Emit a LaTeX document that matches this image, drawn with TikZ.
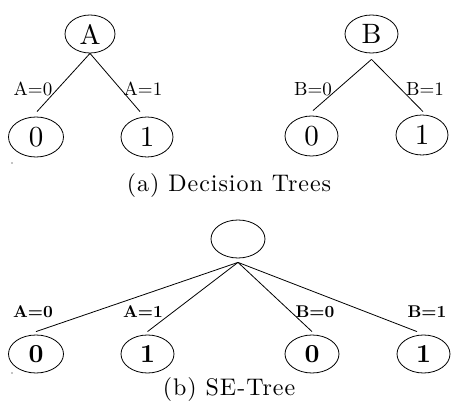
\documentclass[tikz,border=0pt]{standalone}
\usepackage{fontspec}
\setmainfont{lmroman10-regular.otf}[BoldFont=lmroman10-bold.otf]
\newfontfamily\capfont{lmroman10-regular.otf}[LetterSpace=4]
\usetikzlibrary{shapes.geometric}
\begin{document}
\begin{tikzpicture}[x=1pt,y=-1pt,
  nd/.style={draw, ellipse, inner sep=0pt, line width=0.8pt, minimum height=38pt},
  letter/.style={nd, font=\fontsize{28}{30}\selectfont},
  leaf/.style={nd, minimum height=40pt, font=\fontsize{29}{31}\selectfont},
  bleaf/.style={leaf, font=\fontsize{26}{28}\selectfont\bfseries},
  edge/.style={line width=0.8pt},
  lbl/.style={inner sep=0pt, font=\fontsize{19}{21}\selectfont},
  blbl/.style={inner sep=0pt, font=\fontsize{17}{19}\selectfont\bfseries},
  captext/.style={inner sep=0pt, font=\capfont\fontsize{24}{26}\selectfont}]
\useasboundingbox (0,0) rectangle (451,406);
% (a) decision trees
\node[letter, minimum width=50pt] (A) at (90,34) {A};
\node[leaf, minimum width=55pt] (A0) at (36,137) {0};
\node[leaf, minimum width=52pt] (A1) at (147,137) {1};
\draw[edge] (A.south) -- ([xshift=1pt,yshift=5pt]A0.north);
\draw[edge] (A.south) -- ([xshift=-7pt,yshift=5pt]A1.north);
\node[lbl] (la0) at (33,89) {A=0};
\node[lbl] (la1) at (143,89) {A=1};
\node[letter, minimum width=53pt] (B) at (371.5,34) {B};
\node[leaf, minimum width=53pt] (B0) at (311.5,136) {0};
\node[leaf, minimum width=52pt] (B1) at (422,135) {1};
\draw[edge] ([yshift=-6pt]B.south) -- ([xshift=1.5pt,yshift=5pt]B0.north);
\draw[edge] ([yshift=-6pt]B.south) -- ([xshift=1pt,yshift=3pt]B1.north);
\node[lbl] (lb0) at (313,89) {B=0};
\node[lbl] (lb1) at (425,89) {B=1};
\node[captext] (capa) at (229,186) {(a) Decision Trees};
% (b) SE-tree
\node[nd, minimum width=54pt] (R) at (238,239) {};
\node[bleaf, minimum width=55pt, minimum height=38pt] (C1) at (36,354) {0};
\node[bleaf, minimum width=53pt, minimum height=38pt] (C2) at (147.5,354) {1};
\node[bleaf, minimum width=54pt, minimum height=38pt] (C3) at (312,354) {0};
\node[bleaf, minimum width=53pt, minimum height=38pt] (C4) at (423.5,354) {1};
\coordinate (Rb) at ([yshift=-4pt]R.south);
\draw[edge] (Rb) -- ([yshift=3pt]C1.north);
\draw[edge] (Rb) -- ([yshift=3pt]C2.north);
\draw[edge] (Rb) -- ([yshift=3pt]C3.north);
\draw[edge] (Rb) -- ([xshift=-6.5pt,yshift=3pt]C4.north);
\node[blbl] (sa0) at (33,312) {A=0};
\node[blbl] (sa1) at (143,312) {A=1};
\node[blbl] (sb0) at (315,312) {B=0};
\node[blbl] (sb1) at (427,312) {B=1};
\node[captext] (capb) at (229,390) {(b) SE-Tree};
% stray dots
\fill (12,163) circle (0.6);
\fill (12,373) circle (0.6);
\end{tikzpicture}
\end{document}
